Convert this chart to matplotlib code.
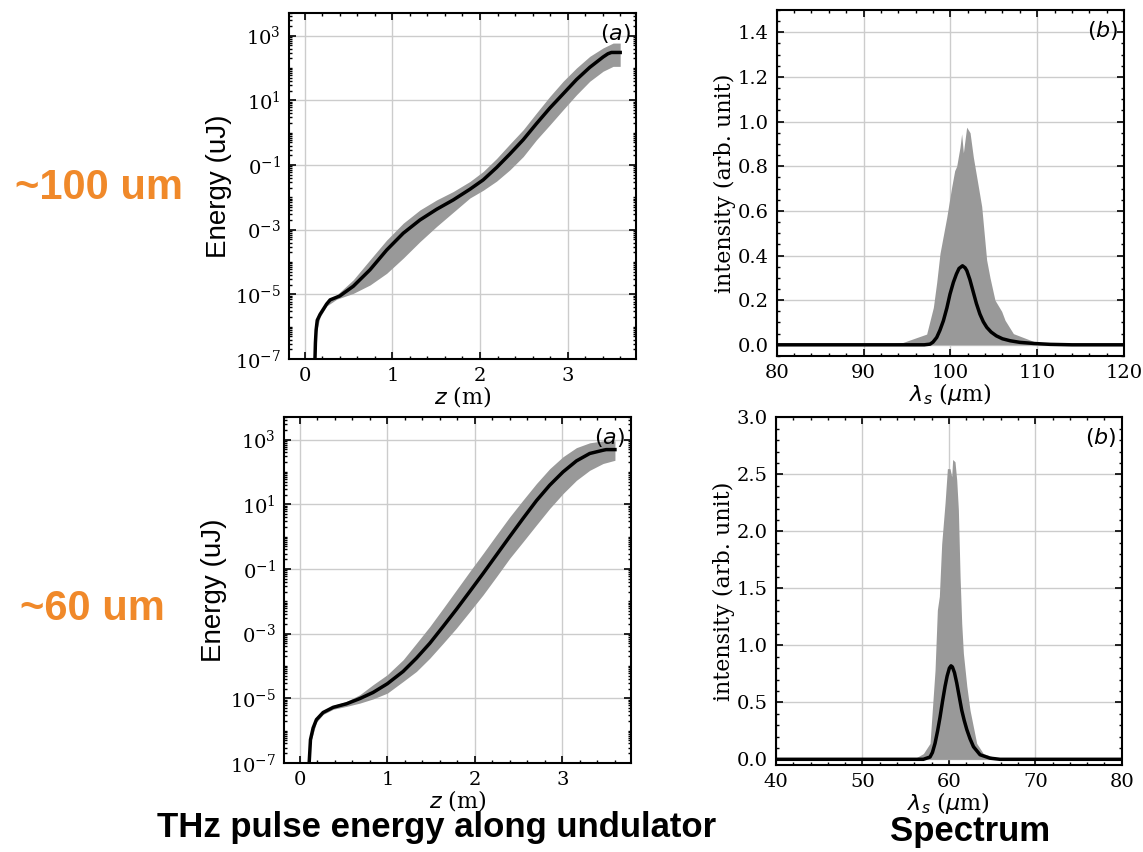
import matplotlib
matplotlib.use("Agg")
import matplotlib.pyplot as plt
import numpy as np
from matplotlib.ticker import AutoMinorLocator, FixedLocator, LogLocator, NullFormatter

plt.rcParams["font.family"] = "DejaVu Serif"
plt.rcParams["mathtext.fontset"] = "dejavusans"

ORANGE = "#f0892a"
GRAY = "#999999"
GRID = "#cccccc"

# ---- energy along the undulator, ~100 um case (log10 of uJ) ----
z_mean_100 = [0.110, 0.117, 0.122, 0.130, 0.143, 0.175, 0.250, 0.290, 0.400, 0.554,
              0.745, 0.935, 1.124, 1.315, 1.505, 1.695, 1.885, 2.037, 2.189,
              2.341, 2.493, 2.645, 2.797, 2.949, 3.101, 3.253, 3.405, 3.460, 3.500, 3.600]
logE_mean_100 = [-8.0, -7.0, -6.50, -6.10, -5.80, -5.62, -5.30, -5.17, -5.05, -4.75,
                 -4.24, -3.63, -3.11, -2.70, -2.37, -2.08, -1.75, -1.46, -1.08,
                 -0.66, -0.22, 0.28, 0.76, 1.20, 1.64, 2.02, 2.34, 2.44, 2.48, 2.48]
z_band_100 = [0.12, 0.175, 0.25, 0.365, 0.554, 0.745, 0.935, 1.124, 1.315, 1.505,
              1.695, 1.885, 2.037, 2.189, 2.341, 2.493, 2.645, 2.797, 2.949,
              3.101, 3.253, 3.405, 3.519, 3.600]
logE_hi_100 = [-6.05, -5.55, -5.24, -5.02, -4.55, -3.93, -3.32, -2.80, -2.39, -2.08,
               -1.82, -1.51, -1.20, -0.80, -0.35, 0.09, 0.61, 1.12, 1.59,
               2.00, 2.36, 2.62, 2.77, 2.77]
logE_lo_100 = [-6.30, -5.70, -5.36, -5.15, -4.97, -4.71, -4.35, -3.88, -3.37, -2.90,
               -2.46, -2.02, -1.78, -1.50, -1.15, -0.74, -0.22, 0.24, 0.71,
               1.17, 1.59, 1.90, 2.05, 2.05]

# ---- energy along the undulator, ~60 um case ----
z_mean_60 = [0.100, 0.107, 0.122, 0.152, 0.190, 0.266, 0.381, 0.533, 0.685, 0.837,
             1.000, 1.180, 1.332, 1.485, 1.637, 1.789, 1.941, 2.094, 2.246, 2.398,
             2.550, 2.703, 2.855, 3.007, 3.160, 3.312, 3.464, 3.500, 3.600]
logE_mean_60 = [-8.0, -7.0, -6.28, -5.92, -5.66, -5.44, -5.28, -5.17, -5.01, -4.82,
                -4.55, -4.17, -3.76, -3.30, -2.78, -2.25, -1.70, -1.14, -0.57, 0.00,
                0.56, 1.11, 1.59, 2.00, 2.34, 2.57, 2.67, 2.69, 2.69]
z_band_60 = [0.12, 0.19, 0.266, 0.381, 0.533, 0.685, 0.837, 1.000, 1.180, 1.332, 1.485,
             1.637, 1.789, 1.941, 2.094, 2.246, 2.398, 2.550, 2.703, 2.855, 3.007,
             3.160, 3.312, 3.464, 3.600]
logE_hi_60 = [-6.15, -5.58, -5.38, -5.22, -5.10, -4.89, -4.58, -4.27, -3.81, -3.30, -2.78,
              -2.22, -1.65, -1.08, -0.52, 0.05, 0.61, 1.13, 1.64, 2.10, 2.47,
              2.75, 2.90, 2.96, 2.96]
logE_lo_60 = [-6.40, -5.74, -5.50, -5.34, -5.25, -5.15, -5.02, -4.84, -4.48, -4.17, -3.76,
              -3.30, -2.83, -2.32, -1.80, -1.24, -0.67, -0.16, 0.36, 0.87, 1.33,
              1.74, 2.05, 2.26, 2.36]

energy_ticks = [-7, -5, -3, -1, 1, 3]
energy_labels = [r"$\mathdefault{10^{-7}}$", r"$\mathdefault{10^{-5}}$",
                 r"$\mathdefault{0^{-3}}$", r"$\mathdefault{0^{-1}}$",
                 r"$\mathdefault{10^{1}}$", r"$\mathdefault{10^{3}}$"]

# ---- spectra, ~100 um case ----
lam_mean_100 = [80, 95, 97.0, 97.66, 98.0, 98.43, 98.8, 99.2, 99.6, 99.96, 100.35, 100.7,
                101.0, 101.4, 101.7, 101.9, 102.25, 102.6, 103.0, 103.4, 103.8, 104.2,
                104.7, 105.3, 106.0, 106.9, 108.0, 109.6, 111.5, 114, 120]
I_mean_100 = [0, 0, 0.0, 0.003, 0.012, 0.033, 0.065, 0.108, 0.165, 0.227, 0.280, 0.317,
              0.342, 0.354, 0.345, 0.332, 0.292, 0.242, 0.185, 0.138, 0.103, 0.078,
              0.057, 0.040, 0.027, 0.018, 0.011, 0.006, 0.002, 0, 0]
lam_band_100 = [80, 91.9, 94.5, 97.27, 98.04, 98.43, 98.81, 99.58, 100.15, 100.5, 100.73,
                101.11, 101.30, 101.50, 101.88, 102.27, 102.65, 103.22, 103.61, 104.18,
                104.57, 105.14, 105.91, 106.30, 107.26, 109.6, 111.5, 113.5, 120]
I_band_100 = [0, 0, 0.01, 0.048, 0.167, 0.28, 0.41, 0.57, 0.706, 0.78, 0.80,
              0.885, 0.945, 0.86, 0.975, 0.95, 0.84, 0.71, 0.62, 0.38,
              0.30, 0.20, 0.15, 0.11, 0.05, 0.015, 0.005, 0, 0]

# ---- spectra, ~60 um case ----
lam_mean_60 = [40, 55, 57.05, 57.82, 58.10, 58.40, 58.70, 58.98, 59.27, 59.56, 59.80,
               60.06, 60.25, 60.41, 60.65, 60.91, 61.20, 61.49, 61.78, 62.08, 62.45,
               62.85, 63.61, 64.76, 65.92, 80]
I_mean_60 = [0, 0, 0.0, 0.02, 0.06, 0.14, 0.25, 0.37, 0.51, 0.64, 0.73,
             0.80, 0.82, 0.81, 0.76, 0.67, 0.55, 0.43, 0.34, 0.26, 0.18,
             0.11, 0.04, 0.01, 0.0, 0]
lam_band_60 = [40, 55.9, 57.05, 57.82, 58.40, 58.67, 58.90, 59.17, 59.56, 59.83, 60.13,
               60.33, 60.44, 60.71, 60.91, 61.10, 61.30, 61.49, 61.68, 62.08, 62.45,
               63.22, 63.99, 65.15, 66.69, 80]
I_band_60 = [0, 0, 0.05, 0.14, 0.78, 1.31, 1.43, 1.89, 2.25, 2.55, 2.55,
             2.48, 2.63, 2.61, 2.45, 2.19, 1.60, 1.19, 0.93, 0.64, 0.43,
             0.14, 0.05, 0.02, 0.0, 0]


def style_axes(ax):
    for s in ax.spines.values():
        s.set_linewidth(1.5)
    ax.tick_params(which="both", direction="in", top=True, right=True, labelsize=14)
    ax.tick_params(which="major", length=5, width=1.2, pad=6)
    ax.tick_params(which="minor", length=2.5, width=1.0)
    ax.grid(True, which="major", color=GRID, linewidth=1.0)
    ax.set_axisbelow(True)


def energy_panel(ax, z_mean, logE_mean, z_band, hi, lo):
    ax.fill_between(z_band, 10 ** np.array(lo), 10 ** np.array(hi), color=GRAY, lw=0)
    ax.plot(z_mean, 10 ** np.array(logE_mean), color="black", lw=2.5)
    ax.set_yscale("log")
    ax.set_ylim(1e-7, 5e3)
    ax.set_xlim(-0.18, 3.78)
    ax.yaxis.set_major_locator(FixedLocator([10.0 ** e for e in energy_ticks]))
    ax.set_yticklabels(energy_labels)
    ax.yaxis.set_minor_locator(LogLocator(base=10, subs=np.arange(1, 10), numticks=100))
    ax.yaxis.set_minor_formatter(NullFormatter())
    ax.set_xticks([0, 1, 2, 3])
    ax.xaxis.set_minor_locator(AutoMinorLocator(5))
    style_axes(ax)
    ax.set_xlabel(r"$z$ (m)", fontsize=16, labelpad=-1)
    ax.set_ylabel("Energy (uJ)", fontsize=20, family="Liberation Sans", labelpad=2)
    ax.text(0.985, 0.975, r"$(a)$", transform=ax.transAxes, ha="right", va="top", fontsize=16)


def spectrum_panel(ax, lam_mean, I_mean, lam_band, I_band, xlim, ylim, yticks):
    ax.fill_between(lam_band, 0, I_band, color=GRAY, lw=0)
    ax.plot(lam_mean, I_mean, color="black", lw=2.5)
    ax.set_xlim(*xlim)
    ax.set_ylim(*ylim)
    ax.set_yticks(yticks)
    ax.xaxis.set_minor_locator(AutoMinorLocator())
    ax.yaxis.set_minor_locator(AutoMinorLocator())
    style_axes(ax)
    ax.set_xlabel(r"$\lambda_s$ ($\mu$m)", fontsize=16, labelpad=-1)
    ax.set_ylabel("intensity (arb. unit)", fontsize=16, labelpad=1)
    ax.text(0.985, 0.975, r"$(b)$", transform=ax.transAxes, ha="right", va="top", fontsize=16)


fig = plt.figure(figsize=(11.43, 8.52), dpi=100)

ax1 = fig.add_axes([0.2528, 0.5786, 0.3036, 0.4061])
energy_panel(ax1, z_mean_100, logE_mean_100, z_band_100, logE_hi_100, logE_lo_100)

ax2 = fig.add_axes([0.6795, 0.5822, 0.3039, 0.4061])
spectrum_panel(ax2, lam_mean_100, I_mean_100, lam_band_100, I_band_100,
               (80, 120), (-0.05, 1.5), np.arange(0, 1.41, 0.2))

ax3 = fig.add_axes([0.2485, 0.1045, 0.3033, 0.4061])
energy_panel(ax3, z_mean_60, logE_mean_60, z_band_60, logE_hi_60, logE_lo_60)

ax4 = fig.add_axes([0.6789, 0.1021, 0.3025, 0.4081])
spectrum_panel(ax4, lam_mean_60, I_mean_60, lam_band_60, I_band_60,
               (40, 80), (-0.05, 3.0), np.arange(0, 3.01, 0.5))

sans_bold = dict(family="Liberation Sans", weight="bold")
fig.text(99 / 1143, 1 - 188 / 852, "~100 um", color=ORANGE, fontsize=30,
         ha="center", va="center", **sans_bold)
fig.text(92 / 1143, 1 - 609 / 852, "~60 um", color=ORANGE, fontsize=30,
         ha="center", va="center", **sans_bold)
fig.text(437 / 1143, 1 - 828 / 852, "THz pulse energy along undulator", fontsize=25,
         ha="center", va="center", **sans_bold)
fig.text(970 / 1143, 1 - 831 / 852, "Spectrum", fontsize=25,
         ha="center", va="center", **sans_bold)

fig.savefig("out.png", dpi=100)
